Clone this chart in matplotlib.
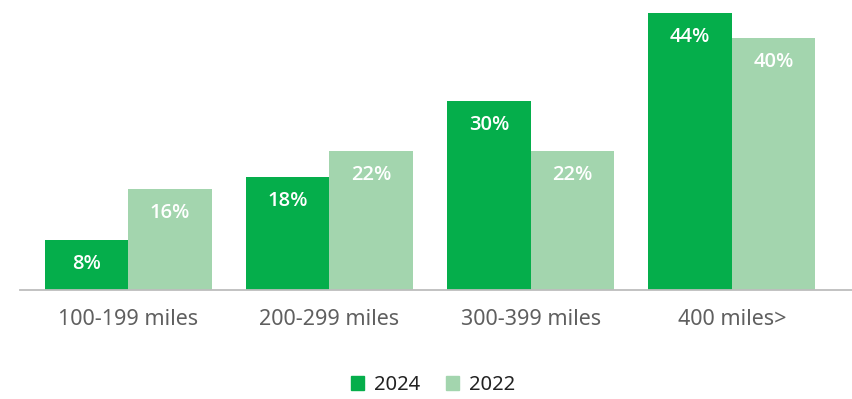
import numpy as np
import matplotlib.pyplot as plt
from matplotlib.patches import Patch

plt.rcParams['font.family'] = ['Noto Sans', 'DejaVu Sans']

categories = ["100-199 miles", "200-299 miles", "300-399 miles", "400 miles>"]
share_2024 = [8, 18, 30, 44]
share_2022 = [16, 22, 22, 40]

c_2024 = "#05ae4b"
c_2022 = "#a3d5ae"

fig = plt.figure(figsize=(8.52, 3.99), dpi=100)
ax = fig.add_axes([20 / 852, 109 / 399, 832 / 852, 290 / 399])

x = np.arange(len(categories))
w = 0.415
b1 = ax.bar(x - w / 2, share_2024, w, color=c_2024, label="2024")
b2 = ax.bar(x + w / 2, share_2022, w, color=c_2022, label="2022")

# value labels sit just inside the top of each bar
for bars, vals in ((b1, share_2024), (b2, share_2022)):
    for bar, v in zip(bars, vals):
        ax.annotate(f"{v}%", (bar.get_x() + bar.get_width() / 2, v),
                    xytext=(0, -24), textcoords="offset pixels",
                    ha="center", va="center", color="white",
                    fontsize=14.5, fontweight="semibold",
                    family=["Open Sans", "DejaVu Sans"])

ax.set_xlim(-0.537, 3.597)
ax.set_ylim(0, 46)
ax.set_yticks([])
ax.set_xticks(x)
ax.set_xticklabels(categories, fontsize=15.5, color="#5f5f5f")
ax.tick_params(axis="x", length=0, pad=14)
for s in ("top", "right", "left"):
    ax.spines[s].set_visible(False)
ax.spines["bottom"].set_color("#bdbdbd")
ax.spines["bottom"].set_linewidth(1.3)

handles = [Patch(color=c_2024, label="2024"), Patch(color=c_2022, label="2022")]
fig.legend(handles=handles, loc="center", bbox_to_anchor=(433 / 852, 1 - 385 / 399),
           ncol=2, frameon=False, fontsize=14.5, handlelength=0.65, handleheight=0.65,
           handletextpad=0.5, columnspacing=1.25, labelcolor="#222222")

fig.savefig("out.png", dpi=100)
